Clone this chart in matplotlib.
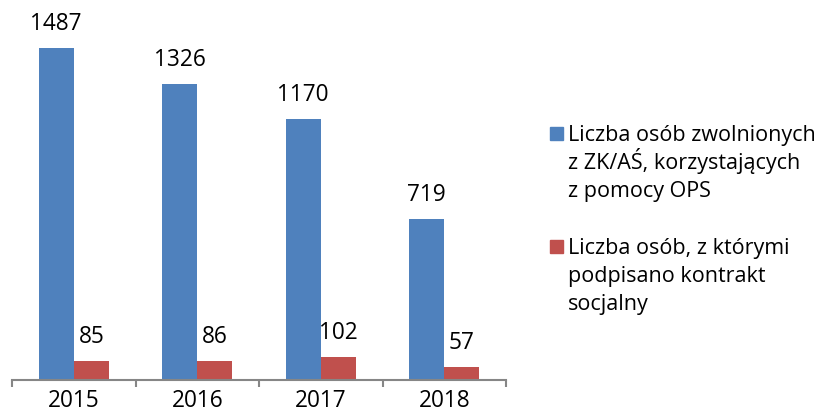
import matplotlib
matplotlib.use("Agg")
import matplotlib.pyplot as plt
from matplotlib.patches import Rectangle
import numpy as np

plt.rcParams['font.family'] = ['Open Sans', 'DejaVu Sans']

years = ["2015", "2016", "2017", "2018"]
released = [1487, 1326, 1170, 719]
contracts = [85, 86, 102, 57]
series_labels = [["Liczba osób zwolnionych", "z ZK/AŚ, korzystających", "z pomocy OPS"],
                 ["Liczba osób, z którymi", "podpisano kontrakt", "socjalny"]]
colors = ["#4F81BD", "#C0504D"]

W, H = 821, 419
fig = plt.figure(figsize=(W / 100, H / 100), dpi=100)
ax = fig.add_axes([12 / W, (H - 380) / H, 494 / W, 360 / H])

x = np.arange(len(years))
bw = 0.285
b1 = ax.bar(x - bw / 2, released, bw, color=colors[0])
b2 = ax.bar(x + bw / 2, contracts, bw, color=colors[1])

fs = 16.3
for bars, vals in ((b1, released), (b2, contracts)):
    for r, v in zip(bars, vals):
        ax.annotate(str(v), (r.get_x() + r.get_width() / 2, v),
                    xytext=(0, 18), textcoords='offset pixels',
                    ha='center', va='baseline', fontsize=fs, color='black')

ax.set_xlim(-0.5, len(years) - 0.5)
ax.set_ylim(0, 1612)
for s in ("left", "right", "top"):
    ax.spines[s].set_visible(False)
ax.spines["bottom"].set_color("#868686")
ax.spines["bottom"].set_linewidth(1.5)
ax.set_yticks([])
ax.set_xticks(x)
ax.set_xticklabels(years, fontsize=fs)
ax.tick_params(axis='x', which='major', length=0, pad=6.5)
ax.set_xticks(np.arange(-0.5, len(years)), minor=True)
ax.tick_params(axis='x', which='minor', length=5, width=1.5, color="#868686")

# legend
lfs = 15.5
leg_base = [141, 254]
line_step = 28
for c, lines, yb in zip(colors, series_labels, leg_base):
    fig.patches.append(Rectangle((550 / W, (H - yb + 1) / H), 13 / W, 13 / H,
                                 transform=fig.transFigure, color=c))
    for i, ln in enumerate(lines):
        fig.text(568 / W, (H - yb - i * line_step) / H, ln, fontsize=lfs,
                 va='baseline', ha='left')

fig.savefig("out.png", dpi=100)
